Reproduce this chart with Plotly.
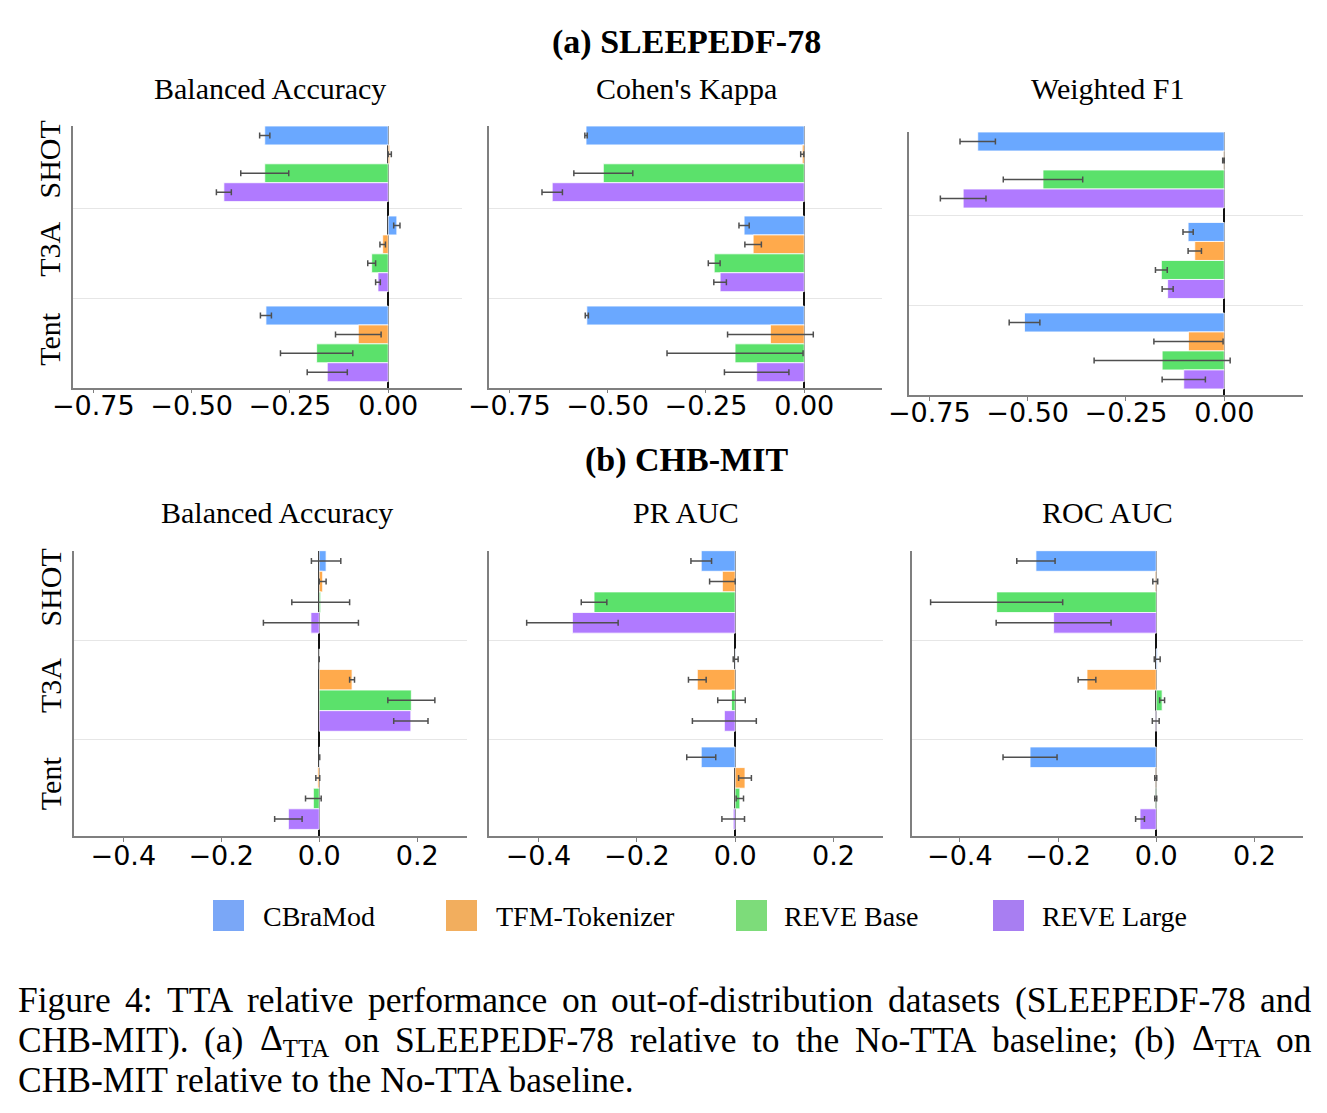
import plotly.graph_objects as go

# ---------------- data ----------------
METHODS = ["SHOT", "T3A", "Tent"]
MODELS = ["CBraMod", "TFM-Tokenizer", "REVE Base", "REVE Large"]
BAR_COLORS = ["#6aa8ff", "#ffaa4c", "#5be16b", "#b07aff"]
LEGEND_COLORS = ["#7aa7f7", "#f2ae5e", "#7ddc7a", "#a87ef2"]

# (a) SLEEPEDF-78 -- rows: models, columns: SHOT, T3A, Tent
SLEEP_BA_MEAN = [[-0.314, 0.022, -0.311], [0.004, -0.014, -0.076],
                 [-0.314, -0.042, -0.182], [-0.418, -0.026, -0.155]]
SLEEP_BA_STD = [[0.013, 0.008, 0.014], [0.004, 0.007, 0.058],
                [0.061, 0.010, 0.092], [0.019, 0.006, 0.051]]
SLEEP_KAPPA_MEAN = [[-0.555, -0.153, -0.553], [-0.005, -0.130, -0.086],
                    [-0.511, -0.229, -0.176], [-0.641, -0.214, -0.121]]
SLEEP_KAPPA_STD = [[0.003, 0.013, 0.004], [0.004, 0.021, 0.109],
                   [0.075, 0.015, 0.173], [0.026, 0.016, 0.082]]
SLEEP_F1_MEAN = [[-0.627, -0.092, -0.508], [-0.002, -0.075, -0.091],
                 [-0.461, -0.160, -0.158], [-0.664, -0.144, -0.103]]
SLEEP_F1_STD = [[0.045, 0.013, 0.039], [0.002, 0.017, 0.088],
                [0.101, 0.015, 0.173], [0.058, 0.014, 0.055]]

# (b) CHB-MIT
CHB_BA_MEAN = [[0.014, 0.0, 0.001], [0.007, 0.067, -0.003],
               [0.003, 0.188, -0.012], [-0.017, 0.187, -0.063]]
CHB_BA_STD = [[0.030, 0.0, 0.0], [0.007, 0.005, 0.004],
              [0.059, 0.048, 0.016], [0.097, 0.035, 0.028]]
CHB_PR_MEAN = [[-0.069, 0.001, -0.069], [-0.026, -0.077, 0.020],
               [-0.287, -0.0075, 0.0095], [-0.331, -0.022, -0.004]]
CHB_PR_STD = [[0.021, 0.005, 0.0295], [0.026, 0.018, 0.013],
              [0.026, 0.028, 0.0075], [0.093, 0.065, 0.023]]
CHB_ROC_MEAN = [[-0.245, 0.002, -0.257], [-0.002, -0.141, -0.001],
                [-0.325, 0.012, -0.001], [-0.209, -0.001, -0.033]]
CHB_ROC_STD = [[0.039, 0.006, 0.055], [0.005, 0.018, 0.002],
               [0.1345, 0.005, 0.002], [0.117, 0.007, 0.009]]

TOP_TICKS = [-0.75, -0.5, -0.25, 0.0]
TOP_TICKTEXT = ["\u22120.75", "\u22120.50", "\u22120.25", "0.00"]
BOT_TICKS = [-0.4, -0.2, 0.0, 0.2]
BOT_TICKTEXT = ["\u22120.4", "\u22120.2", "0.0", "0.2"]

SUPTITLES = ["(a) SLEEPEDF-78", "(b) CHB-MIT"]
PANEL_TITLES = ["Balanced Accuracy", "Cohen's Kappa", "Weighted F1",
                "Balanced Accuracy", "PR AUC", "ROC AUC"]
CAPTION = [
    "Figure 4: TTA relative performance on out-of-distribution datasets (SLEEPEDF-78 and",
    "CHB-MIT). (a) \u0394<sub>TTA</sub> on SLEEPEDF-78 relative to the No-TTA baseline; (b) \u0394<sub>TTA</sub> on",
    "CHB-MIT relative to the No-TTA baseline.",
]
CAPTION_JUSTIFY = [True, True, False]

PANELS = [
    (SLEEP_BA_MEAN, SLEEP_BA_STD), (SLEEP_KAPPA_MEAN, SLEEP_KAPPA_STD),
    (SLEEP_F1_MEAN, SLEEP_F1_STD), (CHB_BA_MEAN, CHB_BA_STD),
    (CHB_PR_MEAN, CHB_PR_STD), (CHB_ROC_MEAN, CHB_ROC_STD),
]

# ---------------- layout geometry (pixels) ----------------
W, H = 1327, 1113
GEOM = [  # x0, x1, y0(top), y1(bottom), xrange
    (73.3, 461.7, 126.0, 387.7, [-0.801, 0.187]),
    (489.3, 881.7, 126.0, 387.7, [-0.801, 0.197]),
    (909.3, 1303.3, 132.0, 395.0, [-0.801, 0.201]),
    (74.3, 466.7, 550.7, 836.0, [-0.5, 0.301]),
    (489.3, 882.7, 550.7, 836.0, [-0.5, 0.300]),
    (911.7, 1303.3, 550.7, 836.0, [-0.498, 0.2995]),
]
TITLE_POS = [(269.5, 89), (686.5, 89), (1107, 89), (276.5, 513), (686, 513), (1107, 513)]
SERIF = "Liberation Serif"
SANS = "DejaVu Sans"
SPINE = "#7f7f7f"

fig = go.Figure()

for p, (means, stds) in enumerate(PANELS):
    ax = "" if p == 0 else str(p + 1)
    for m, model in enumerate(MODELS):
        fig.add_trace(go.Bar(
            y=METHODS, x=means[m], orientation="h", name=model,
            marker=dict(color=BAR_COLORS[m], line=dict(color="white", width=0.8)),
            error_x=dict(type="data", array=stds[m], color="#4f4f4f",
                         thickness=1.5, width=3),
            xaxis="x" + ax, yaxis="y" + ax, showlegend=False,
        ))
    x0, x1, y0, y1, xr = GEOM[p]
    top = p < 3
    fig.layout["xaxis" + ax] = dict(
        domain=[x0 / W, x1 / W], range=xr, anchor="y" + ax, automargin=False,
        tickvals=TOP_TICKS if top else BOT_TICKS,
        ticktext=TOP_TICKTEXT if top else BOT_TICKTEXT,
        tickfont=dict(family=SANS, size=27, color="black"),
        showline=True, linecolor=SPINE, linewidth=1.5,
        ticks="outside", ticklen=4, tickwidth=1.2, tickcolor=SPINE,
        ticklabelstandoff=-11 if top else -9,
        showgrid=False, zeroline=True, zerolinecolor="#111111", zerolinewidth=1.5,
    )
    fig.layout["yaxis" + ax] = dict(
        domain=[1 - y1 / H, 1 - y0 / H], anchor="x" + ax, automargin=False,
        type="category", categoryorder="array", categoryarray=METHODS,
        range=[2.487, -0.42], tickson="boundaries", ticks="",
        showgrid=True, gridcolor="#e6e6e6", gridwidth=1,
        showline=True, linecolor=SPINE, linewidth=1.5, zeroline=False,
        showticklabels=(p % 3 == 0),
        tickangle=-90, tickfont=dict(family=SERIF, size=30, color="black"),
    )

annotations = []
for (tx, ty), t in zip(TITLE_POS, PANEL_TITLES):
    annotations.append(dict(x=tx / W, y=1 - ty / H, xref="paper", yref="paper",
                            text=t, showarrow=False, xanchor="center", yanchor="middle",
                            font=dict(family=SERIF, size=30, color="black")))
for t, ty in zip(SUPTITLES, [42, 460]):
    annotations.append(dict(x=686 / W, y=1 - ty / H, xref="paper", yref="paper",
                            text="<b>" + t + "</b>", showarrow=False,
                            xanchor="center", yanchor="middle",
                            font=dict(family=SERIF, size=34, color="black")))

# legend (manual, large square swatches)
LEG_SW_X = [213, 446, 736, 993]
LEG_TX_X = [261, 494, 782, 1040]
shapes = []
for m, model in enumerate(MODELS):
    shapes.append(dict(type="rect", xref="paper", yref="paper",
                       x0=LEG_SW_X[m] / W, x1=(LEG_SW_X[m] + 31) / W,
                       y0=1 - 931 / H, y1=1 - 900 / H,
                       fillcolor=LEGEND_COLORS[m], line=dict(width=0)))
    annotations.append(dict(x=LEG_TX_X[m] / W, y=1 - 916 / H, xref="paper", yref="paper",
                            text=model, showarrow=False, xanchor="left", yanchor="middle",
                            font=dict(family=SERIF, size=28, color="black")))

# caption: justified lines, words placed using Times-compatible advance widths
TIMES_W = {" ": 250, "!": 333, "(": 333, ")": 333, "-": 333, ".": 250, ",": 250,
           ":": 278, ";": 278, "\u0394": 612}
TIMES_W.update({d: 500 for d in "0123456789"})
TIMES_W.update(dict(zip("ABCDEFGHIJKLMNOPQRSTUVWXYZ",
                        [722, 667, 667, 722, 611, 556, 722, 722, 333, 389, 722, 611, 889,
                         722, 722, 556, 722, 667, 556, 611, 722, 722, 944, 722, 722, 611])))
TIMES_W.update(dict(zip("abcdefghijklmnopqrstuvwxyz",
                        [444, 500, 444, 500, 444, 333, 500, 500, 278, 278, 500, 278, 778,
                         500, 500, 500, 500, 333, 389, 278, 500, 500, 722, 500, 500, 444])))
KERN = {"TA": -80, "AT": -80, "Fi": 0}
CAP_SIZE = 35.5
CAP_LEFT, CAP_RIGHT = 17, 1310


def word_width(w):
    total = 0.0
    sub = False
    prev = ""
    i = 0
    while i < len(w):
        if w.startswith("<sub>", i):
            sub = True
            i += 5
            continue
        if w.startswith("</sub>", i):
            sub = False
            i += 6
            continue
        scale = 0.7 if sub else 1.0
        total += (TIMES_W.get(w[i], 500) + KERN.get(prev + w[i], 0)) / 1000.0 * scale
        prev = w[i]
        i += 1
    return total * CAP_SIZE


for line, ty, just in zip(CAPTION, [1000, 1040, 1080], CAPTION_JUSTIFY):
    if just:
        words = line.split(" ")
        widths = [word_width(w) for w in words]
        gap = (CAP_RIGHT - CAP_LEFT - sum(widths)) / (len(words) - 1)
        xpos = CAP_LEFT
        for w, ww in zip(words, widths):
            annotations.append(dict(x=xpos / W, y=1 - ty / H, xref="paper", yref="paper",
                                    text=w, showarrow=False, xanchor="left", yanchor="middle",
                                    borderpad=0,
                                    font=dict(family=SERIF, size=CAP_SIZE, color="black")))
            xpos += ww + gap
    else:
        annotations.append(dict(x=CAP_LEFT / W, y=1 - ty / H, xref="paper", yref="paper",
                                text=line, showarrow=False, xanchor="left", yanchor="middle",
                                borderpad=0,
                                font=dict(family=SERIF, size=CAP_SIZE, color="black")))

fig.update_layout(
    width=W, height=H, margin=dict(l=0, r=0, t=0, b=0),
    paper_bgcolor="white", plot_bgcolor="white",
    barmode="group", bargap=0.16, bargroupgap=0.0,
    annotations=annotations, shapes=shapes, showlegend=False,
)

fig.write_html("out.html")
